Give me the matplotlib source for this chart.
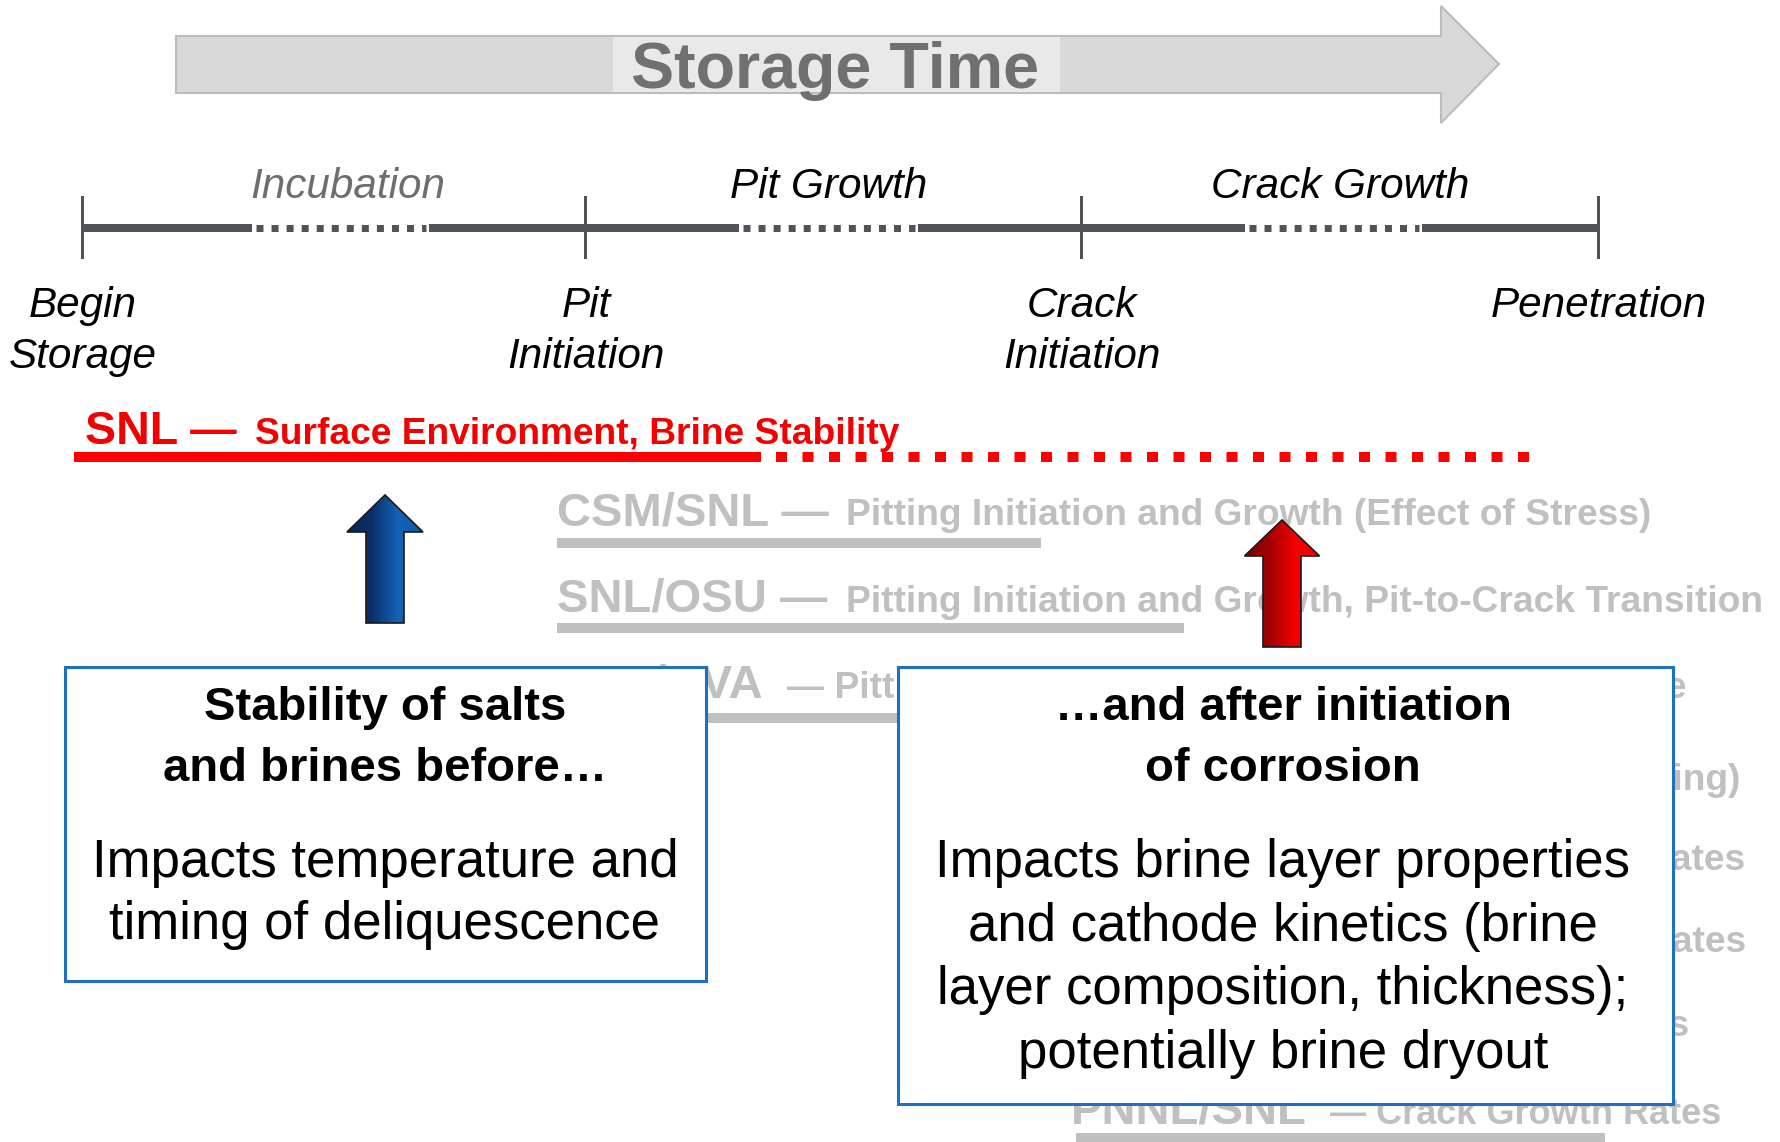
import matplotlib
matplotlib.use("Agg")
import matplotlib.pyplot as plt
from matplotlib.patches import Polygon, Rectangle
from matplotlib.colors import LinearSegmentedColormap
from matplotlib import font_manager
import numpy as np

# ---------------- data ----------------
title = "Storage Time"

milestones = ["Begin\nStorage", "Pit\nInitiation", "Crack\nInitiation", "Penetration"]
phases = ["Incubation", "Pit Growth", "Crack Growth"]
phase_colors = ["#6e6e6e", "#000000", "#000000"]

snl_org = "SNL —"
snl_desc = "Surface Environment, Brine Stability"

row_org = ["CSM/SNL —", "SNL/OSU —", "SNL/UVA", "", "", "", "", "PNNL/SNL"]
row_desc_head = ["Pitting Initiation and Growth (Effect of Stress)",
                 "Pitting Initiation and Growth, Pit-to-Crack Transition",
                 "— Pitting",
                 "", "", "", "", ""]
row_desc_tail = ["", "", "Size", "Cracking)", "Rates", "Rates", "Tests",
                 "— Crack Growth Rates"]

left_title = ["Stability of salts", "and brines before…"]
left_body = ["Impacts temperature and", "timing of deliquescence"]
right_title = ["…and after initiation", "of corrosion"]
right_body = ["Impacts brine layer properties", "and cathode kinetics (brine",
              "layer composition, thickness);", "potentially brine dryout"]

# ---------------- layout (pixel coordinates) ----------------
W, H, DPI = 1781, 1142, 100
milestone_x = [82, 585, 1081, 1598]
phase_x = [348, 829, 1340]
dotted_spans = [(252, 429), (739, 918), (1245, 1422)]
timeline_y = 228

row_org_x = [557, 557, 560, None, None, None, None, 1071]
row_head_x = [846, 846, 787, None, None, None, None, None]
row_tail_x = [None, None, 1687, 1741, 1746, 1747, 1690, 1721]
row_base = [525, 612, 698, 790, 870, 952, 1036, 1124]
row_bar = [(557, 1041, 543), (557, 1184, 628), (557, 1300, 718),
           (1000, 1500, 808), (1000, 1550, 888), (1000, 1550, 970),
           (1000, 1550, 1053), (1076, 1605, 1138)]


def has_font(name):
    try:
        font_manager.findfont(font_manager.FontProperties(family=name),
                              fallback_to_default=False)
        return True
    except Exception:
        return False


SANS = "Liberation Sans" if has_font("Liberation Sans") else "DejaVu Sans"
NARROW = has_font("Liberation Sans Narrow")

fig = plt.figure(figsize=(W / DPI, H / DPI), dpi=DPI)
ax = fig.add_axes([0, 0, 1, 1])
ax.set_xlim(0, W)
ax.set_ylim(H, 0)
ax.axis("off")


def px(v):
    return v * 72.0 / DPI


# ---- Storage Time arrow ----
arrow_pts = [(176, 36), (1441, 36), (1441, 6), (1499, 64), (1441, 123),
             (1441, 93), (176, 93)]
ax.add_patch(Polygon(arrow_pts, closed=True, fc="#d9d9d9", ec="#bcbcbc",
                     lw=1.5, zorder=1))
ax.add_patch(Rectangle((613, 37), 447, 55, fc="#e9e9e9", ec="none", zorder=2))
ax.text(835, 88, title, ha="center", va="baseline", fontsize=46.5,
        fontweight="bold", color="#707070", family=SANS, zorder=3)

# ---- timeline ----
tl_color = "#50545a"
solid_edges = [milestone_x[0]] + [v for s in dotted_spans for v in s] + [milestone_x[-1]]
for a, b in zip(solid_edges[0::2], solid_edges[1::2]):
    ax.plot([a, b], [timeline_y, timeline_y], color=tl_color, lw=px(8),
            solid_capstyle="butt", zorder=2)
for a, b in dotted_spans:
    ax.plot([a + 4, b - 3], [timeline_y, timeline_y], color=tl_color, lw=px(7),
            dashes=(1.0, 1.15), dash_capstyle="butt", zorder=2)
for x in milestone_x:
    ax.plot([x, x], [197, 257], color=tl_color, lw=px(3), zorder=2)

for lab, x, c in zip(phases, phase_x, phase_colors):
    ax.text(x, 198, lab, ha="center", va="baseline", fontsize=30.4,
            style="italic", color=c, family=SANS)

for lab, x in zip(milestones, milestone_x):
    for i, line in enumerate(lab.split("\n")):
        ax.text(x + 1, 317 + 51 * i, line, ha="center", va="baseline",
                fontsize=30.4, style="italic", color="black", family=SANS)

# ---- SNL red row ----
red = "#f40000"
ax.text(85, 444, snl_org, ha="left", va="baseline", fontsize=33.5,
        fontweight="bold", color=red, family=SANS, zorder=3)
ax.text(255, 444, snl_desc, ha="left", va="baseline", fontsize=26.7,
        fontweight="bold", color=red, family=SANS, zorder=3)
ax.plot([74, 761], [457, 457], color="#ff0000", lw=px(10),
        solid_capstyle="butt", zorder=3)
ax.plot([776, 1540], [457, 457], color="#ff0000", lw=px(10),
        dashes=(1.1, 1.55), dash_capstyle="butt", zorder=3)

# ---- gray program rows ----
gray = "#c0c0c0"
for i in range(len(row_base)):
    y = row_base[i]
    if row_org[i]:
        ax.text(row_org_x[i], y, row_org[i], ha="left", va="baseline",
                fontsize=34, fontweight="bold", color=gray, family=SANS, zorder=1)
    if row_desc_head[i]:
        ax.text(row_head_x[i], y, row_desc_head[i], ha="left", va="baseline",
                fontsize=26.7, fontweight="bold", color=gray, family=SANS, zorder=1)
    if row_desc_tail[i]:
        fs = 26 if i == len(row_base) - 1 else 26.7
        ax.text(row_tail_x[i], y, row_desc_tail[i], ha="right", va="baseline",
                fontsize=fs, fontweight="bold", color=gray, family=SANS, zorder=1)
    x0, x1, by = row_bar[i]
    ax.add_patch(Rectangle((x0, by - 5), x1 - x0, 10, fc=gray, ec="none", zorder=1))

# ---- boxes ----
box_ec = "#1f70c1"
ax.add_patch(Rectangle((65, 667), 641, 314, fc="white", ec=box_ec, lw=2.2, zorder=5))
ax.add_patch(Rectangle((898, 667), 775, 437, fc="white", ec=box_ec, lw=2.2, zorder=5))

if NARROW:
    tfam, tsize = "Liberation Sans Narrow", 38.5
else:
    tfam, tsize = SANS, 34
for j, line in enumerate(left_title):
    ax.text(385, 720 + 61 * j, line, ha="center", va="baseline", fontsize=tsize,
            fontweight="bold", color="black", family=tfam, zorder=6)
for j, line in enumerate(left_body):
    ax.text(385, 877 + 62 * j, line, ha="center", va="baseline", fontsize=38,
            color="black", family=SANS, zorder=6)
for j, line in enumerate(right_title):
    ax.text(1283, 720 + 61 * j, line, ha="center", va="baseline", fontsize=tsize,
            fontweight="bold", color="black", family=tfam, zorder=6)
for j, line in enumerate(right_body):
    ax.text(1283, 877 + 63.6 * j, line, ha="center", va="baseline", fontsize=38,
            color="black", family=SANS, zorder=6)


# ---- gradient arrows ----
def grad_arrow(cx, tip, head_base, bottom, hw, sw, colors):
    pts = [(cx, tip), (cx + hw, head_base), (cx + sw, head_base), (cx + sw, bottom),
           (cx - sw, bottom), (cx - sw, head_base), (cx - hw, head_base)]
    poly = Polygon(pts, closed=True, fc="none", ec="#1a1a1a", lw=1.2, zorder=8)
    ax.add_patch(poly)
    cmap = LinearSegmentedColormap.from_list("g", colors)
    g = np.linspace(0, 1, 256).reshape(1, -1)
    im = ax.imshow(g, cmap=cmap, extent=(cx - hw, cx + hw, bottom, tip),
                   aspect="auto", zorder=7, interpolation="bilinear")
    im.set_clip_path(poly)


grad_arrow(385, 495, 532, 623, 38, 19, ["#0a2455", "#0b2f6c", "#1362b4", "#0f5aa8"])
grad_arrow(1282, 520, 556, 647, 37.5, 19, ["#7a0000", "#a00000", "#f00000", "#ff0000"])

ax.set_xlim(0, W)
ax.set_ylim(H, 0)

fig.savefig("out.png", dpi=DPI, facecolor="white")
